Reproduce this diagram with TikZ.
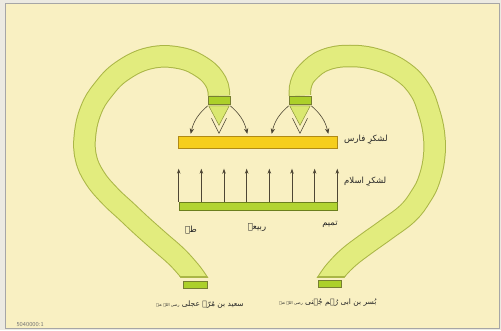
\documentclass[tikz,border=0pt]{standalone}
\usepackage{fontspec}
\usetikzlibrary{arrows.meta,calc}
\newfontfamily\urdufont[Script=Arabic]{DejaVu Sans}
\TeXXeTstate=1
\definecolor{papercream}{RGB}{249,240,194}
\definecolor{paperedge}{RGB}{236,234,226}
\definecolor{bandgreen}{RGB}{226,236,126}
\definecolor{bandline}{RGB}{170,182,70}
\definecolor{capgreen}{RGB}{172,208,42}
\definecolor{persiangold}{RGB}{246,206,28}
\definecolor{persianline}{RGB}{176,138,22}
\definecolor{islamgreen}{RGB}{178,212,50}
\definecolor{arrowbrown}{RGB}{78,70,52}
\tikzset{bandout/.style={line width=22.5pt,draw=bandline},
  bandin/.style={line width=20.5pt,draw=bandgreen},
  capbox/.style={rectangle,draw=bandline!70!black,fill=capgreen,line width=.6pt,
    minimum width=22pt,minimum height=8pt,inner sep=0pt},
  wedge/.style={fill=bandgreen!85!capgreen,draw=bandline!80!black,line width=.5pt},
  chevron/.style={draw=arrowbrown,line width=.6pt},
  fanarrow/.style={-{Stealth[length=5.5pt,width=4.5pt]},draw=arrowbrown,line width=.6pt},
  uparrow/.style={-{Stealth[length=5pt,width=3.5pt]},draw=arrowbrown,line width=.6pt},
  lbl/.style={font=\urdufont\fontsize{8.5}{10}\selectfont,text=black!85,inner sep=1pt}}
\def\leftband{plot[smooth,tension=.7] coordinates {(200,44) (195,52) (188,61) (176,74) (160,88)
  (142,104) (126,119) (110,134) (95,152) (86,172) (85,195) (91,220) (103,240) (122,259) (150,272)
  (180,272) (203,262) (216,248) (219,234.5)}}
\def\rightband{plot[smooth,tension=.7] coordinates {(325,44) (330,52) (337,61) (349,73) (366,86)
  (387,101) (408,117) (421,134) (429,150) (434,172) (434,195) (429,218) (420,240) (403,258) (378,270)
  (350,274) (325,270) (308,258) (301,246) (300,234.5)}}

\begin{document}
\begin{tikzpicture}[x=1pt,y=1pt]
  \path[use as bounding box] (0,0) rectangle (501,330);
  \fill[paperedge] (0,0) rectangle (501,330);
  \filldraw[fill=papercream,draw=black!35,line width=.5pt] (5,2) rectangle (499,327);
  % the two bands, cut flat at the bottom
  \begin{scope}
    \clip (0,52.5) rectangle (501,330);
    \draw[bandout] \leftband;
    \draw[bandin] \leftband;
    \draw[bandout] \rightband;
    \draw[bandin] \rightband;
  \end{scope}
  \begin{scope}
    \clip (0,52.5) rectangle (501,53.1);
    \draw[bandout] \leftband;
    \draw[bandout] \rightband;
  \end{scope}
  % caps
  \node[capbox] (lcap) at (219,230) {};
  \node[capbox] (rcap) at (300,230) {};
  \node[capbox,minimum width=24pt,minimum height=7pt] (lfoot) at (195,45) {};
  \node[capbox,minimum width=23pt,minimum height=7pt] (rfoot) at (330,46) {};
  % wedges and chevrons
  \foreach \c in {lcap,rcap}{
    \filldraw[wedge] ($(\c.south west)+(1,-1.5)$) -- ($(\c.south east)+(-1,-1.5)$)
      -- ($(\c.south)+(0,-21)$) -- cycle;
    \draw[chevron] ($(\c.south)+(-7.5,-14)$) -- ($(\c.south)+(0,-29)$) -- ($(\c.south)+(7.5,-14)$);
    \draw[fanarrow] ($(\c.south west)+(0,-1.5)$) to[bend right=18] ++(-17,-28);
    \draw[fanarrow] ($(\c.south east)+(0,-1.5)$) to[bend left=18] ++(17,-28);
  }
  % armies
  \node[rectangle,draw=persianline,fill=persiangold,line width=.6pt,minimum width=159pt,
    minimum height=12pt,inner sep=0pt] (persia) at (257.5,188) {};
  \node[rectangle,draw=islamgreen!60!black,fill=islamgreen,line width=.6pt,minimum width=158pt,
    minimum height=8pt,inner sep=0pt] (islam) at (258,124) {};
  \foreach \i in {0,...,7}
    \draw[uparrow] ($(islam.north west)!\i/7!(islam.north east)$) -- ++(0,33);
  \node[lbl,anchor=west] (persialbl) at (343,190) {\beginR لشکرِ فارس\endR};
  \node[lbl,anchor=west] (islamlbl) at (343,148) {\beginR لشکرِ اسلام\endR};
  \node[lbl] (tayy) at (191,100) {\beginR طے\endR};
  \node[lbl] (rabia) at (257,102) {\beginR ربیعہ\endR};
  \node[lbl] (tamim) at (330,106) {\beginR تمیم\endR};
  \node[lbl,font=\urdufont\fontsize{7.5}{9}\selectfont] (saeed) at (200,25)
    {\beginR سعید بن مُرّہ عجلی {\fontsize{4}{5}\selectfont رضی اللہ عنہ}\endR};
  \node[lbl,font=\urdufont\fontsize{7.5}{9}\selectfont] (busr) at (328,27)
    {\beginR بُسر بن ابی رُہم جُہنی {\fontsize{4}{5}\selectfont رضی اللہ عنہ}\endR};
  \node[font=\sffamily\fontsize{6}{7}\selectfont,text=black!55,anchor=west] (scale) at (13,5) {5040000:1};
\end{tikzpicture}
\end{document}
